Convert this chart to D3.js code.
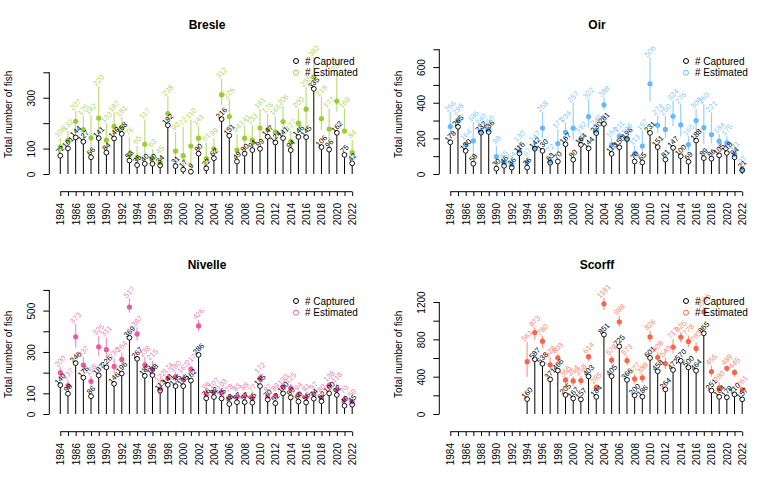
<!DOCTYPE html>
<html><head><meta charset="utf-8">
<script src="https://cdn.jsdelivr.net/npm/d3@7"></script>
<style>
body{margin:0;background:#fff}
svg{display:block}
text{font-family:"Liberation Sans",Arial,Helvetica,sans-serif}
</style>
</head><body>
<svg id="chart" width="780" height="480"></svg>
<script>
// ---------- data ----------
const years = [1984,1985,1986,1987,1988,1989,1990,1991,1992,1993,1994,1995,1996,1997,1998,1999,2000,2001,2002,2003,2004,2005,2006,2007,2008,2009,2010,2011,2012,2013,2014,2015,2016,2017,2018,2019,2020,2021,2022];
const scorffYears = years.filter(y => y >= 1994);

const bresleCaptured  = [72,101,144,127,66,141,84,140,158,53,35,40,40,34,192,31,17,9,80,22,62,216,151,49,80,94,99,147,124,141,94,146,145,335,106,96,162,75,42];
const bresleEstimated = [106,132,207,175,142,220,133,187,181,76,65,117,63,45,238,90,72,110,141,61,99,312,226,94,141,133,181,176,165,206,127,200,255,382,218,177,287,169,84];
const bresleLower     = [85,110,165,140,80,150,95,150,165,58,40,50,45,36,200,40,22,15,100,30,70,270,180,60,95,105,130,155,135,155,100,160,165,350,173,134,245,161,75];
const bresleUpper     = [142,170,249,229,232,345,200,243,223,144,111,214,98,72,305,164,184,214,190,122,142,374,295,157,190,193,256,237,229,269,170,258,341,460,304,258,402,258,134];

const oirCaptured  = [178,265,130,58,232,236,30,46,36,116,36,142,130,63,70,167,80,164,144,230,281,113,150,196,70,65,231,151,81,147,100,69,188,89,86,105,118,94,21];
const oirEstimated = [266,298,164,186,240,250,98,65,54,130,67,147,258,72,171,234,257,192,322,245,388,164,211,199,113,157,506,274,250,324,276,165,300,260,221,184,175,111,27];
const oirLower     = [200,270,140,80,232,238,60,52,40,120,45,142,200,63,120,180,190,164,260,225,360,130,190,190,85,110,406,230,200,270,210,130,230,170,170,140,140,94,21];
const oirUpper     = [346,331,187,290,275,262,159,75,70,178,90,178,346,112,253,290,400,230,421,270,430,200,234,219,159,243,655,330,328,412,393,215,365,393,346,225,215,122,45];

const nivelleCaptured  = [140,98,246,176,86,187,226,146,196,369,267,185,188,113,141,135,135,162,286,76,82,75,48,57,57,55,135,70,52,100,80,60,56,74,62,100,92,40,45];
const nivelleEstimated = [200,137,373,237,158,325,311,230,264,517,387,238,215,122,174,180,167,217,426,96,107,103,78,83,88,77,172,87,89,130,125,94,81,97,80,138,118,70,59];
const nivelleLower     = [175,115,320,205,130,280,270,200,235,490,355,205,190,110,155,160,145,200,400,85,95,90,62,68,72,62,155,78,78,120,105,80,68,85,68,120,100,52,50];
const nivelleUpper     = [226,164,435,274,185,379,371,266,298,560,419,274,258,153,194,202,194,234,455,110,120,115,97,100,105,95,194,97,102,137,145,105,100,108,95,153,148,89,73];

const scorffCaptured  = [160,587,538,371,466,205,167,157,403,184,851,405,725,366,200,186,601,458,264,472,570,500,464,865,251,184,179,210,157];
const scorffEstimated = [561,873,780,528,603,365,354,358,614,285,1181,578,988,573,377,388,826,608,540,717,825,778,703,1096,455,280,489,445,261];
const scorffLower     = [400,793,703,478,543,293,300,310,570,250,1114,530,936,520,330,340,770,560,480,650,770,720,650,1050,400,240,450,400,230];
const scorffUpper     = [775,929,839,607,643,393,400,410,643,321,1250,625,1054,625,429,429,893,661,607,804,875,839,768,1150,518,339,518,482,286];

const bresleYTicks = [0,100,200,300,400],   bresleYLabels = [0,100,300];
const oirYTicks = [0,100,200,300,400,500,600,700], oirYLabels = [0,200,400,600];
const nivelleYTicks = [0,100,200,300,400,500,600], nivelleYLabels = [0,100,300,500];
const scorffYTicks = [0,200,400,600,800,1000,1200], scorffYLabels = [0,400,800,1200];

const legendLabels = ["# Captured", "# Estimated"];
const yAxisTitle = "Total number of fish";

// ---------- panels ----------
const panels = [
  {name:"Bresle",  color:"#9ACD32", yrs:years, cap:bresleCaptured, est:bresleEstimated, lo:bresleLower, hi:bresleUpper, yMax:527, ticks:bresleYTicks, labels:bresleYLabels, col:0, row:0},
  {name:"Oir",     color:"#63B8FF", yrs:years, cap:oirCaptured, est:oirEstimated, lo:oirLower, hi:oirUpper, yMax:752, ticks:oirYTicks, labels:oirYLabels, col:1, row:0},
  {name:"Nivelle", color:"#EC5A9E", yrs:years, cap:nivelleCaptured, est:nivelleEstimated, lo:nivelleLower, hi:nivelleUpper, yMax:648, ticks:nivelleYTicks, labels:nivelleYLabels, col:0, row:1},
  {name:"Scorff",  color:"#FF6347", yrs:scorffYears, cap:scorffCaptured, est:scorffEstimated, lo:scorffLower, hi:scorffUpper, yMax:1436, ticks:scorffYTicks, labels:scorffYLabels, col:1, row:1}
];

const svg = d3.select("#chart");
const PW = 390, PH = 240;

panels.forEach(p => {
  const g = svg.append("g").attr("transform", `translate(${p.col*PW},${p.row*PH})`);
  const x = d3.scaleLinear().domain([1984, 2022]).range([60.3, 352.2]);
  const y = d3.scaleLinear().domain([0, p.yMax]).range([174, 40]);
  const data = p.yrs.map((yr, i) => ({yr, cap:p.cap[i], est:p.est[i], lo:p.lo[i], hi:p.hi[i]}));
  const r = 2.4;

  // title
  g.append("text").attr("x", 207).attr("y", 29).attr("text-anchor","middle")
    .attr("font-size", 12).attr("font-weight","bold").text(p.name);

  // y axis
  const ya = g.append("g").attr("transform","translate(49.3,0)")
    .call(d3.axisLeft(y).tickValues(p.ticks).tickSize(6).tickSizeOuter(0)
      .tickFormat(d => p.labels.includes(d) ? d : ""));
  ya.select(".domain").remove();
  ya.append("line").attr("x1",0).attr("x2",0)
    .attr("y1", y(d3.min(p.ticks))).attr("y2", y(d3.max(p.ticks))).attr("stroke","#000");
  ya.selectAll(".tick line").attr("stroke","#000");
  ya.selectAll(".tick text").attr("x", null).attr("dy", null)
    .attr("transform","translate(-14.3,0) rotate(-90)")
    .attr("text-anchor","middle").attr("font-size",10).attr("fill","#000")
    .attr("font-family","Liberation Sans, Arial, sans-serif");

  // y axis title
  g.append("text").attr("transform","translate(11.7,114.3) rotate(-90)")
    .attr("text-anchor","middle").attr("font-size",10).text(yAxisTitle);

  // x axis
  const xa = g.append("g").attr("transform","translate(0,191.7)")
    .call(d3.axisBottom(x).tickValues(years).tickSize(4.3).tickSizeOuter(0)
      .tickFormat(d => d % 2 === 0 ? d : ""));
  xa.select(".domain").remove();
  xa.append("line").attr("x1", x(years[0])).attr("x2", x(years[years.length-1]))
    .attr("y1",0).attr("y2",0).attr("stroke","#000");
  xa.selectAll(".tick line").attr("stroke","#000");
  xa.selectAll(".tick text").attr("y", null).attr("dy","0.35em")
    .attr("transform","translate(0,11.3) rotate(-90)")
    .attr("text-anchor","end").attr("font-size",10).attr("fill","#000")
    .attr("font-family","Liberation Sans, Arial, sans-serif");

  // stems for captured
  g.append("g").selectAll("line").data(data).join("line")
    .attr("x1", d => x(d.yr)).attr("x2", d => x(d.yr))
    .attr("y1", y(0)).attr("y2", d => y(d.cap) + r)
    .attr("stroke","#000").attr("stroke-width",1);

  // CI segments
  g.append("g").selectAll("line").data(data).join("line")
    .attr("x1", d => x(d.yr)).attr("x2", d => x(d.yr))
    .attr("y1", d => y(d.lo)).attr("y2", d => y(d.hi))
    .attr("stroke", p.color).attr("stroke-opacity",0.65).attr("stroke-width",1.2);

  // estimated dots
  g.append("g").selectAll("circle").data(data).join("circle")
    .attr("cx", d => x(d.yr)).attr("cy", d => y(d.est)).attr("r", r+0.2)
    .attr("fill", p.color);

  // captured circles
  g.append("g").selectAll("circle").data(data).join("circle")
    .attr("cx", d => x(d.yr)).attr("cy", d => y(d.cap)).attr("r", r)
    .attr("fill","none").attr("stroke","#000").attr("stroke-width",0.9);

  // captured labels
  g.append("g").selectAll("text").data(data).join("text")
    .attr("transform", d => `translate(${x(d.yr)},${y(d.cap)-6}) rotate(-45)`)
    .attr("text-anchor","middle").attr("dominant-baseline","central")
    .attr("font-size",7.5).attr("fill","#000").text(d => d.cap);

  // estimated labels
  g.append("g").selectAll("text").data(data).join("text")
    .attr("transform", d => `translate(${x(d.yr)},${y(d.hi)-6}) rotate(-45)`)
    .attr("text-anchor","middle").attr("dominant-baseline","central")
    .attr("font-size",7.5).attr("fill", p.color).attr("fill-opacity",0.8).text(d => d.est);

  // legend
  const lg = g.append("g");
  legendLabels.forEach((t, i) => {
    lg.append("circle").attr("cx",296).attr("cy",61 + i*11.7).attr("r",2.5)
      .attr("fill","none").attr("stroke", i === 0 ? "#000" : p.color).attr("stroke-width",1);
    lg.append("text").attr("x",305).attr("y",61 + i*11.7).attr("dy","0.35em")
      .attr("font-size",10).text(t);
  });
});
</script>
</body></html>
